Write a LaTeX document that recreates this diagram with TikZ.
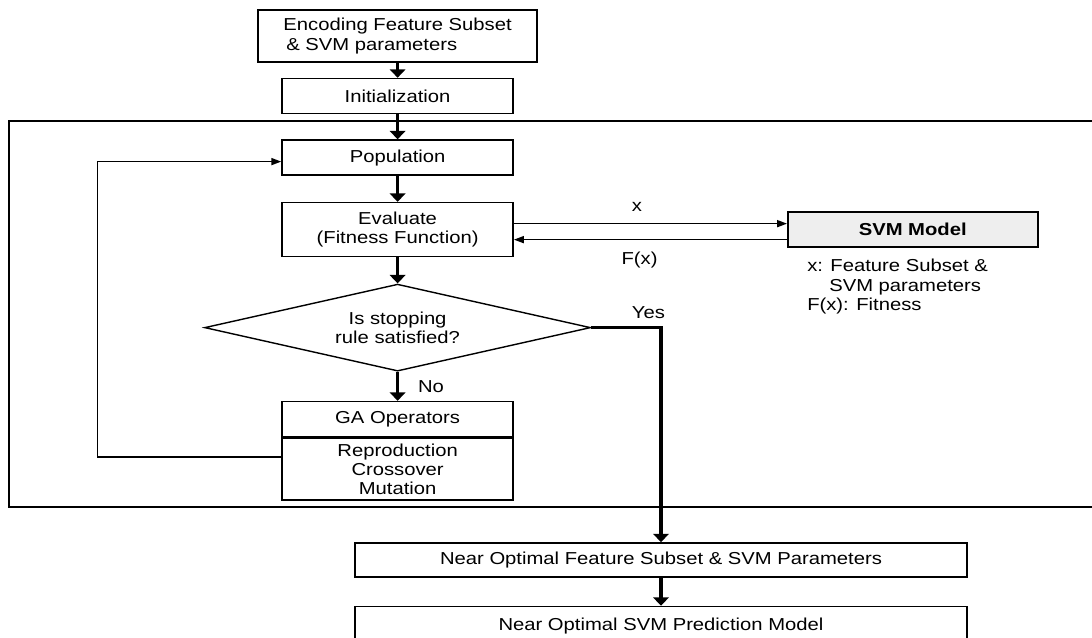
\documentclass[tikz,border=0pt]{standalone}
\usepackage{fontspec}
\setmainfont{Liberation Sans}[FakeStretch=1.17]
\usetikzlibrary{arrows.meta, positioning, shapes.geometric}

\begin{document}
\begin{tikzpicture}[
    >=Triangle,
    every node/.style={font=\fontsize{12.3}{13.6}\selectfont},
    box/.style={draw, line width=1.1pt, minimum width=5.78cm,
                minimum height=0.875cm, inner sep=2pt, align=center},
    flow/.style={-{Triangle[width=11pt,length=6pt]}, line width=2.6pt},
    link/.style={-{Triangle[width=5pt,length=7pt]}, line width=1pt}
  ]
  \useasboundingbox (0,0) rectangle (27.3,-15.925);
  \clip (0,0) rectangle (27.3,-15.925);

  % main column
  \node[box, minimum width=6.98cm, minimum height=1.3cm, align=left] (enc)
    at (9.94,-0.9) {Encoding Feature Subset\\ \,\& SVM parameters};
  \node[box, below=0.375cm of enc] (init) {Initialization};
  \node[box, below=0.625cm of init] (pop) {Population};
  \node[box, minimum height=1.35cm, below=0.65cm of pop] (eval)
    {Evaluate\\(Fitness Function)};
  \node[draw, diamond, aspect=4.4, line width=1pt, minimum width=9.65cm,
        minimum height=2.175cm, inner sep=0pt, align=center,
        below=0.65cm of eval] (stop) {Is stopping\\rule satisfied?};
  \node[box, below=0.725cm of stop] (gahead) {GA Operators};
  \node[box, minimum height=1.55cm, below=0pt of gahead] (gabody)
    {Reproduction\\Crossover\\Mutation};

  % GA loop frame
  \draw[line width=1.1pt] (27.5,-3.025) -- (0.225,-3.025) -- (0.225,-12.675)
    -- (27.5,-12.675);

  % SVM side
  \node[box, fill=gray!13, minimum width=6.25cm,
        font=\fontsize{12.3}{13.6}\selectfont\bfseries,
        right=6.825cm of eval] (svm) {SVM Model};
  \node[align=left, inner sep=0pt, below right=0.28cm and 0.5cm of svm.south west]
    (note) {x: Feature Subset \&\\\hspace{0.55cm}SVM parameters\\F(x): Fitness};

  % results
  \node[box, minimum width=15.3cm, minimum height=0.85cm] (near)
    at (16.525,-14.0) {Near Optimal Feature Subset \& SVM Parameters};
  \node[box, minimum width=15.3cm, minimum height=0.95cm, below=0.7cm of near]
    (model) {Near Optimal SVM Prediction Model};

  \draw[flow] (enc) -- (init);
  \draw[flow] (init) -- (pop);
  \draw[flow] (pop) -- (eval);
  \draw[flow] (eval) -- (stop);
  \draw[flow] (stop) -- node[right=0.35cm] {No} (gahead);
  \draw[flow] (stop.east) -| node[pos=0.41, above=2pt] {Yes} (near);
  \draw[flow] (near) -- (model);

  \draw[link] ([yshift=0.3cm]gabody.west) -- ++(-4.6,0) |- ([yshift=-0.1cm]pop.west);
  \draw[link] ([yshift=0.15cm]eval.east) -- node[pos=0.45, above=5pt] {x}
    ([yshift=0.15cm]svm.west);
  \draw[link] ([yshift=-0.25cm]svm.west) -- node[pos=0.54, below=5pt] {F(x)}
    ([yshift=-0.25cm]eval.east);
\end{tikzpicture}
\end{document}
